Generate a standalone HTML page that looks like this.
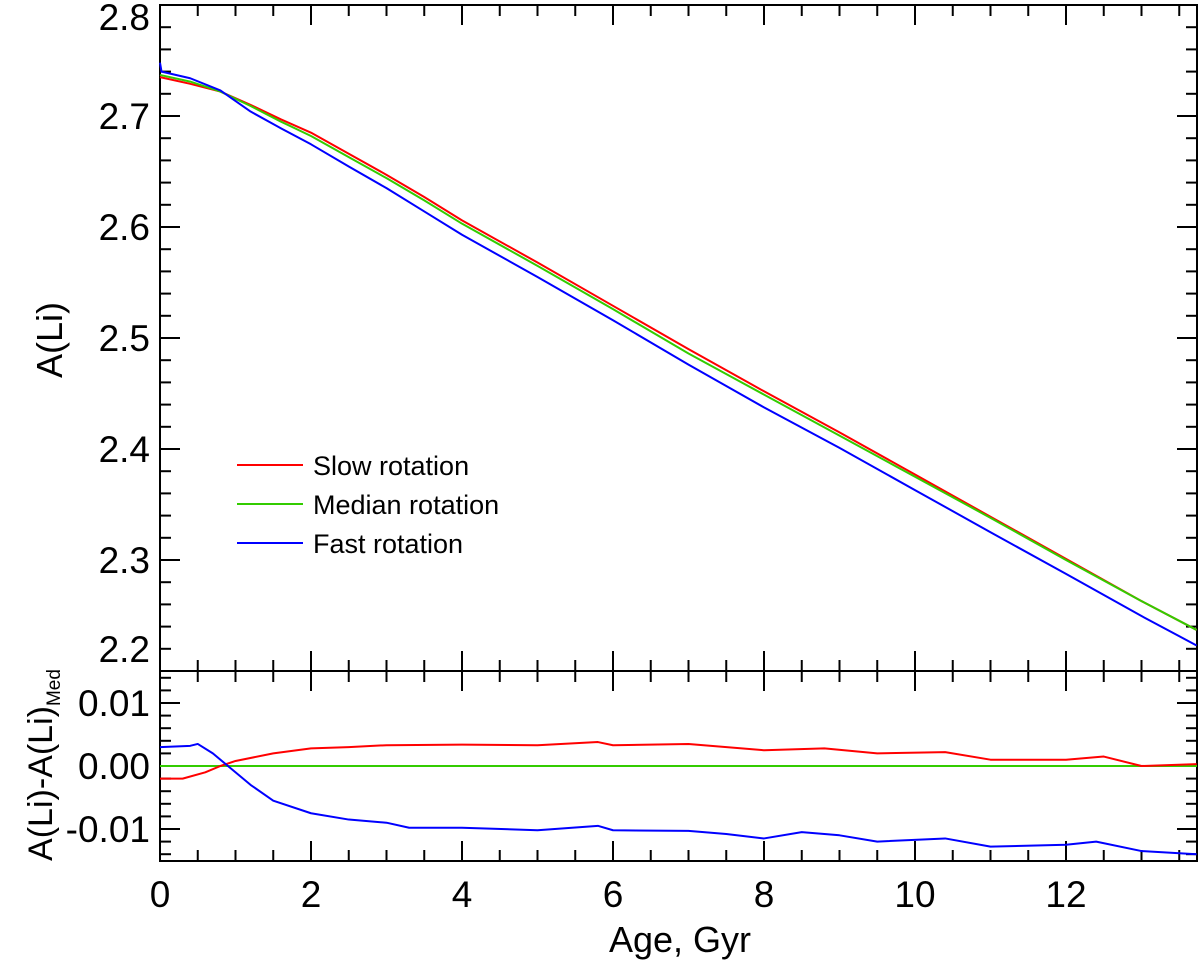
<!DOCTYPE html>
<html><head><meta charset="utf-8"><style>
body{margin:0;background:#fff}
svg text{font-family:"Liberation Sans",Arial,sans-serif;fill:#000}
</style></head><body>
<svg id="chart" width="1200" height="963" xmlns="http://www.w3.org/2000/svg">
<g id="axes"></g>
<g id="series"></g>
<g>
<line x1="237" y1="465" x2="303" y2="465" stroke="#f00" stroke-width="2"/>
<text x="313" y="475" font-size="27">Slow rotation</text>
<line x1="237" y1="504" x2="303" y2="504" stroke="#3c0" stroke-width="2"/>
<text x="313" y="514" font-size="27">Median rotation</text>
<line x1="237" y1="543" x2="303" y2="543" stroke="#00f" stroke-width="2"/>
<text x="313" y="553" font-size="27">Fast rotation</text>
</g>
<text x="0" y="0" font-size="36" text-anchor="middle" transform="translate(62,340) rotate(-90)">A(Li)</text>
<text x="0" y="0" font-size="34" text-anchor="middle" transform="translate(52,765) rotate(-90)">A(Li)-A(Li)<tspan font-size="19" dy="8">Med</tspan></text>
<text x="680" y="952" font-size="36" text-anchor="middle">Age, Gyr</text>
</svg>
<script>
const ages=[0,0.4,0.8,1.2,1.6,2,2.5,3,3.5,4,5,6,7,8,9,10,11,12,13,13.73];
const medianLi=[2.737,2.731,2.722,2.709,2.695,2.682,2.663,2.644,2.624,2.603,2.565,2.526,2.486,2.449,2.412,2.375,2.338,2.300,2.263,2.237];
const slowLi=[2.735,2.729,2.722,2.710,2.697,2.685,2.666,2.647,2.627,2.606,2.568,2.529,2.490,2.452,2.415,2.377,2.339,2.301,2.263,2.237];
const fastAges=[0,0.02,0.4,0.8,1.2,1.6,2,2.5,3,3.5,4,5,6,7,8,9,10,11,12,13,13.73];
const fastLi=[2.748,2.740,2.734,2.723,2.704,2.689,2.6745,2.6545,2.635,2.614,2.593,2.555,2.516,2.476,2.4375,2.401,2.363,2.325,2.2875,2.2495,2.223];
const slowDiffAges=[0,0.3,0.6,0.8,1,1.5,2,2.5,3,4,5,5.8,6,7,8,8.8,9.5,10.4,11,12,12.5,13,13.73];
const slowDiff=[-0.002,-0.002,-0.001,0,0.0008,0.002,0.0028,0.003,0.0033,0.0034,0.0033,0.0038,0.0033,0.0035,0.0025,0.0028,0.002,0.0022,0.001,0.001,0.0015,0,0.0003];
const fastDiffAges=[0,0.4,0.5,0.7,0.9,1.2,1.5,2,2.5,3,3.3,4,5,5.8,6,7,7.5,8,8.5,9,9.5,10.4,11,12,12.4,13,13.73];
const fastDiff=[0.003,0.0032,0.0035,0.002,0,-0.003,-0.0055,-0.0075,-0.0085,-0.009,-0.0098,-0.0098,-0.0102,-0.0095,-0.0102,-0.0103,-0.0108,-0.0115,-0.0105,-0.011,-0.012,-0.0115,-0.0128,-0.0125,-0.012,-0.0135,-0.014];
const topTicks=["2.2","2.3","2.4","2.5","2.6","2.7","2.8"];
const botTicks=["-0.01","0.00","0.01"];
const xTicks=["0","2","4","6","8","10","12"];

const L=160,R=1197,T=5,M=671,B=861;
const xMax=(R-L)/75.5;
const X=v=>L+v*75.5;
const Yt=v=>T+(2.8-v)*1110;
const Yb=v=>766-v*6300;
const NS="http://www.w3.org/2000/svg";
const ax=document.getElementById('axes'), se=document.getElementById('series');
function mk(tag,at,par){const e=document.createElementNS(NS,tag);for(const k in at)e.setAttribute(k,at[k]);par.appendChild(e);return e;}
function ln(x1,y1,x2,y2,n){const e=mk('line',{x1,y1,x2,y2,stroke:'#000','stroke-width':2},ax);

}
let f1=mk('rect',{x:L,y:T,width:R-L,height:M-T,fill:'none',stroke:'#000','stroke-width':2},ax);


let f2=mk('rect',{x:L,y:M,width:R-L,height:B-M,fill:'none',stroke:'#000','stroke-width':2},ax);


for(let v=0.5;v<xMax;v+=0.5){const major=Math.abs(v/2-Math.round(v/2))<1e-6;const len=major?20:11;
[T,M,B].forEach(y0=>{if(y0!==T)ln(X(v),y0,X(v),y0-len,'x-tick');if(y0!==B)ln(X(v),y0,X(v),y0+len,'x-tick');});}
xTicks.forEach(t=>{const e=mk('text',{x:X(+t),y:907,'font-size':37,'text-anchor':'middle'},ax);e.textContent=t;

});
for(let i=1;i<30;i++){const v=2.2+i*0.02;const y=Yt(v);const major=i%5===0;const len=major?20:11;
ln(L,y,L+len,y,'y-tick-top');ln(R,y,R-len,y,'y-tick-top');}
topTicks.forEach(t=>{let y=Yt(+t)+13;y=Math.max(30,Math.min(662,y));const e=mk('text',{x:150,y:y,'font-size':37,'text-anchor':'end'},ax);e.textContent=t;

});
for(let i=-7;i<=7;i++){const v=i*0.002;const y=Yb(v);const major=i%5===0;const len=major?20:11;
ln(L,y,L+len,y,'y-tick-bottom');ln(R,y,R-len,y,'y-tick-bottom');}
botTicks.forEach(t=>{const e=mk('text',{x:150,y:Yb(+t)+13,'font-size':37,'text-anchor':'end'},ax);e.textContent=t;

});
function poly(xs,ys,fy,col,n){const p=mk('polyline',{points:xs.map((a,i)=>X(a)+','+fy(ys[i])).join(' '),fill:'none',stroke:col,'stroke-width':2,'stroke-linejoin':'round'},se);

}
poly(ages,slowLi,Yt,'#f00','slow-rotation-line');
poly(ages,medianLi,Yt,'#3c0','median-rotation-line');
poly(fastAges,fastLi,Yt,'#00f','fast-rotation-line');
poly([0,xMax],[0,0],Yb,'#3c0','median-diff-line');
poly(slowDiffAges,slowDiff,Yb,'#f00','slow-diff-line');
poly(fastDiffAges,fastDiff,Yb,'#00f','fast-diff-line');
</script>
</body></html>
